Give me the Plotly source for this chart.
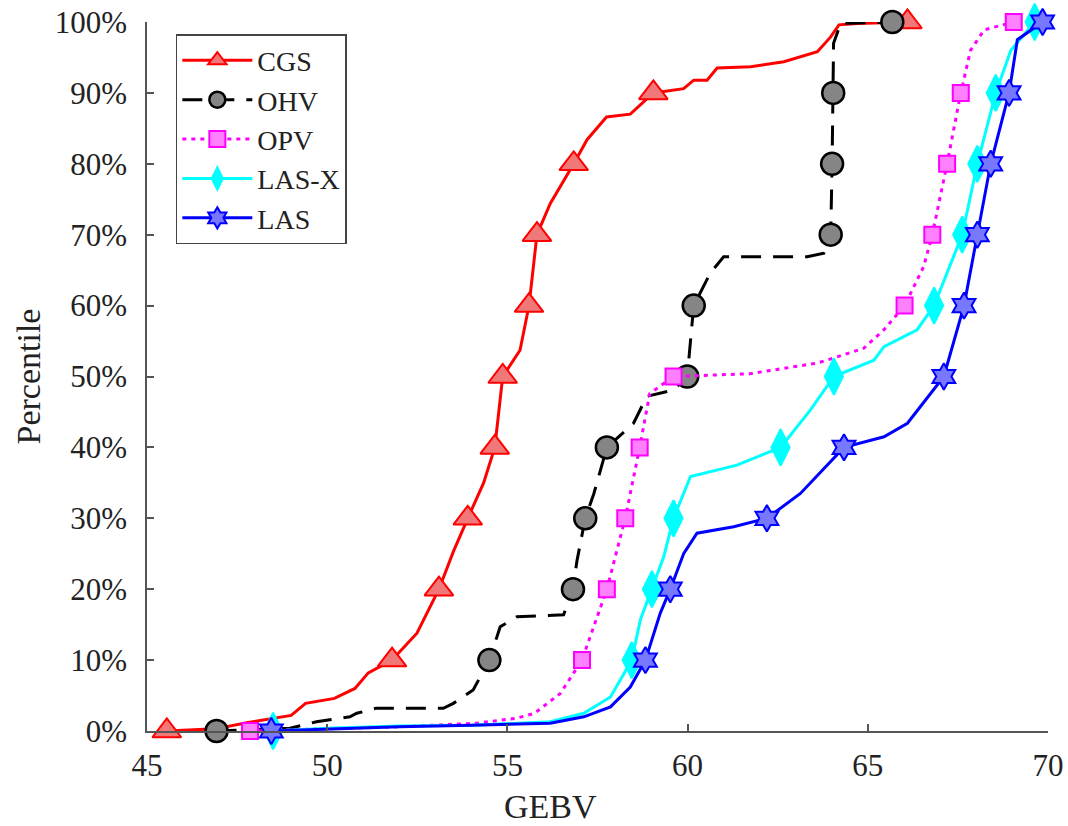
import plotly.graph_objects as go

# ---------------- data ----------------
percentiles = [0, 10, 20, 30, 40, 50, 60, 70, 80, 90, 100]
series_names = ["CGS", "OHV", "OPV", "LAS-X", "LAS"]

# GEBV at each decile (marker positions)
cgs_dec = [45.55, 51.80, 53.10, 53.90, 54.65, 54.87, 55.60, 55.82, 56.84, 59.05, 66.10]
ohv_dec = [46.93, 54.50, 56.82, 57.16, 57.76, 59.99, 60.17, 63.97, 64.01, 64.04, 65.68]
opv_dec = [47.86, 57.07, 57.76, 58.27, 58.67, 59.61, 66.02, 66.79, 67.20, 67.58, 69.05]
lasx_dec = [48.50, 58.45, 59.01, 59.61, 62.58, 64.06, 66.84, 67.62, 68.04, 68.55, 69.63]
las_dec = [48.45, 58.83, 59.52, 62.20, 64.34, 67.11, 67.67, 68.04, 68.41, 68.92, 69.85]

# cumulative curves (GEBV, percentile)
cgs_x = [45.55, 46.9, 47.8, 49.0, 49.4, 50.2, 50.77, 51.14, 51.8, 52.49, 53.1, 53.5, 53.9, 54.34,
         54.65, 54.71, 54.87, 55.35, 55.6, 55.82, 56.19, 56.84, 57.21, 57.75, 58.41, 59.05, 59.89,
         60.17, 60.54, 60.82, 61.75, 62.67, 63.6, 63.97, 64.2, 64.71, 66.1]
cgs_y = [0, 0.3, 1.2, 2.2, 3.9, 4.6, 6.0, 8.2, 10, 13.8, 20, 25.3, 30, 35,
         40, 43, 50, 53.7, 60, 70, 74.4, 80, 83.4, 86.6, 87, 90, 90.6,
         91.8, 91.8, 93.5, 93.7, 94.4, 95.8, 97.9, 99.6, 99.8, 100]

ohv_x = [46.93, 48.97, 49.7, 50.63, 50.82, 51.35, 53.22, 53.5, 54.05, 54.5, 54.8, 55.26, 56.56,
         56.82, 56.93, 57.16, 57.4, 57.76, 58.5, 58.87, 59.61, 59.99, 60.17, 60.63, 61.0, 63.32,
         63.78, 63.97, 64.01, 64.04, 64.05, 64.25, 65.68]
ohv_y = [0, 0.4, 1.3, 2.0, 2.5, 3.2, 3.2, 3.9, 5.8, 10, 14.7, 16.1, 16.4,
         20, 24, 30, 33.5, 40, 43.4, 47.2, 48.1, 50, 60, 64.6, 66.9, 66.9,
         67.4, 70, 80, 90, 97, 99.8, 100]

opv_x = [47.86, 50.0, 52.0, 54.15, 55.25, 55.75, 56.47, 57.07, 57.39, 57.76, 58.27, 58.67, 58.95,
         59.61, 61.74, 63.6, 64.05, 64.89, 65.45, 66.02, 66.55, 66.79, 67.2, 67.58, 67.85, 68.23, 69.05]
opv_y = [0, 0.3, 0.6, 1.1, 1.8, 2.5, 5.3, 10, 14.7, 20, 30, 40, 47.6,
         50, 50.4, 51.9, 52.6, 54, 56.6, 60, 65.5, 70, 80, 90, 96, 98.9, 100]

lasx_x = [48.5, 50.0, 52.0, 54.0, 56.19, 57.12, 57.86, 58.13, 58.45, 58.69, 59.01, 59.34, 59.61,
          60.08, 61.37, 62.58, 63.41, 64.06, 65.17, 65.45, 66.37, 66.84, 67.62, 68.04, 68.55, 68.97, 69.63]
lasx_y = [0, 0.4, 0.7, 0.8, 1.3, 2.5, 4.8, 7.2, 10, 15.7, 20, 24.6, 30,
          35.9, 37.5, 40, 45.3, 50, 52.3, 54.2, 56.6, 60, 70, 80, 90, 96, 100]

las_x = [48.45, 50.0, 52.0, 54.0, 56.19, 57.12, 57.86, 58.41, 58.83, 59.24, 59.52, 59.89, 60.26,
         61.28, 62.2, 63.13, 64.34, 65.45, 66.1, 67.11, 67.67, 68.04, 68.41, 68.92, 69.15, 69.85]
las_y = [0, 0.3, 0.6, 0.8, 1.1, 2.0, 3.4, 6.2, 10, 16.6, 20, 25, 27.9,
         28.8, 30, 33.5, 40, 41.5, 43.4, 50, 60, 70, 80, 90, 97.5, 100]

x_ticks = [45, 50, 55, 60, 65, 70]
y_ticks = [0, 10, 20, 30, 40, 50, 60, 70, 80, 90, 100]
y_tick_labels = ["0%", "10%", "20%", "30%", "40%", "50%", "60%", "70%", "80%", "90%", "100%"]

# ---------------- styles ----------------
FONT = "Liberation Serif, Times New Roman, serif"
styles = {
    "CGS":   dict(color="#ff0000", fill="#f07878", symbol="triangle-up", size=25, dash="solid", mlw=2),
    "OHV":   dict(color="#000000", fill="#858585", symbol="circle", size=22, dash="20px,12px", mlw=2.5),
    "OPV":   dict(color="#ff00ff", fill="#ff80ff", symbol="square", size=16, dash="4px,5px", mlw=2),
    "LAS-X": dict(color="#00ffff", fill="#00ffff", symbol="diamond-tall", size=26, dash="solid", mlw=2),
    "LAS":   dict(color="#0000ff", fill="#7878ff", symbol="hexagram", size=20, dash="solid", mlw=2),
}
curves = {
    "CGS": (cgs_x, cgs_y, cgs_dec),
    "OHV": (ohv_x, ohv_y, ohv_dec),
    "OPV": (opv_x, opv_y, opv_dec),
    "LAS-X": (lasx_x, lasx_y, lasx_dec),
    "LAS": (las_x, las_y, las_dec),
}

fig = go.Figure()
for name in series_names:
    cx, cy, dec = curves[name]
    st = styles[name]
    fig.add_trace(go.Scatter(x=cx, y=cy, mode="lines", showlegend=False, hoverinfo="skip",
                             line=dict(color=st["color"], width=3, dash=st["dash"]),
                             cliponaxis=False))
    fig.add_trace(go.Scatter(x=dec, y=percentiles, mode="markers", showlegend=False,
                             marker=dict(symbol=st["symbol"], size=st["size"], color=st["fill"],
                                         line=dict(color=st["color"], width=st["mlw"])),
                             cliponaxis=False))
# legend entries
for name in series_names:
    st = styles[name]
    fig.add_trace(go.Scatter(x=[None], y=[None], mode="lines+markers", name=name,
                             line=dict(color=st["color"], width=3, dash=st["dash"]),
                             marker=dict(symbol=st["symbol"], size=st["size"], color=st["fill"],
                                         line=dict(color=st["color"], width=st["mlw"]))))

axis_common = dict(showgrid=False, zeroline=False, showline=True, linecolor="#555555", linewidth=1.5,
                   ticks="inside", ticklen=7, tickcolor="#555555", tickwidth=1.5, mirror=False,
                   automargin=False, ticklabeloverflow="allow",
                   tickfont=dict(family=FONT, size=31, color="#222222"))

fig.update_layout(
    width=1068, height=826,
    paper_bgcolor="white", plot_bgcolor="white",
    margin=dict(l=147, r=20, t=22, b=95),
    font=dict(family=FONT, color="#222222"),
    xaxis=dict(range=[45, 70], tickvals=x_ticks, ticklabelstandoff=6, **axis_common),
    yaxis=dict(range=[0, 100], tickmode="array", tickvals=y_ticks, ticktext=y_tick_labels,
               ticklabelstandoff=12, **axis_common),
    legend=dict(x=0.032, y=0.983, xanchor="left", yanchor="top",
                font=dict(family=FONT, size=28, color="#222222"),
                bgcolor="white", bordercolor="#444444", borderwidth=1.5,
                tracegroupgap=0, itemwidth=70),
    annotations=[
        dict(text="GEBV", x=0.448, y=-0.107, xref="paper", yref="paper", showarrow=False,
             xanchor="center", yanchor="middle", font=dict(family=FONT, size=34, color="#222222")),
        dict(text="Percentile", x=-0.131, y=0.5, xref="paper", yref="paper", showarrow=False,
             textangle=-90, xanchor="center", yanchor="middle",
             font=dict(family=FONT, size=34, color="#222222")),
    ],
)

# remove the browser's default 8px page margin so the figure fills the window exactly
fig.write_html("out.html", config={"displayModeBar": False},
               post_script="document.body.style.margin='0px';")
